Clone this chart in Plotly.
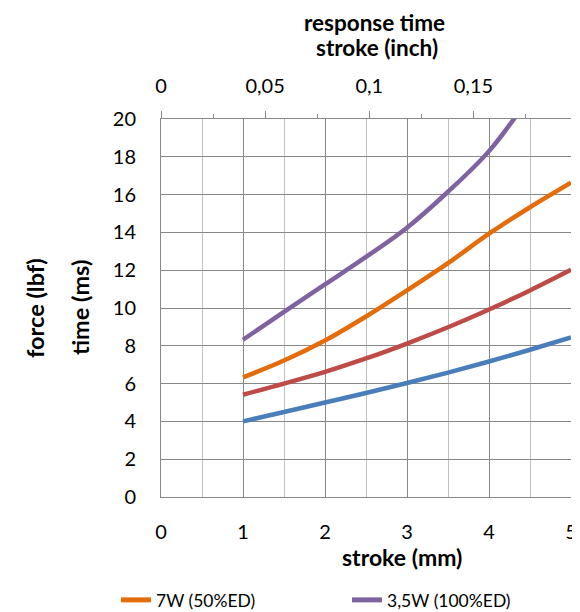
import plotly.graph_objects as go

# ---- data ----
stroke_mm = [1, 1.5, 2, 2.5, 3, 3.5, 4, 4.5, 5]
time_blue = [4.0, 4.5, 5.0, 5.5, 6.03, 6.58, 7.17, 7.79, 8.44]
time_red = [5.41, 6.0, 6.62, 7.33, 8.12, 8.98, 9.92, 10.93, 12.02]
time_orange = [6.33, 7.22, 8.28, 9.55, 10.93, 12.37, 13.93, 15.33, 16.63]
stroke_mm_purple = [1, 1.5, 2, 2.5, 3, 3.5, 4, 4.5]
time_purple = [8.32, 9.8, 11.25, 12.7, 14.25, 16.15, 18.3, 21.2]

name_orange = "7W (50%ED)"
name_purple = "3,5W (100%ED)"

MM_PER_INCH = 25.4
x_range_mm = [0, 5]
y_range = [0, 20]

FONT = "Lato"
TXT = "#000000"
GRID_DARK = "#888888"
GRID_LIGHT = "#C0C0C0"

C_BLUE = "#4A7EBB"
C_RED = "#BE4B48"
C_ORANGE = "#E46C0A"
C_PURPLE = "#7F63A1"

fig = go.Figure()

fig.add_trace(go.Scatter(x=stroke_mm, y=time_blue, mode="lines", showlegend=False,
                         line=dict(color=C_BLUE, width=4.5, shape="spline"), hoverinfo="x+y"))
fig.add_trace(go.Scatter(x=stroke_mm, y=time_red, mode="lines", showlegend=False,
                         line=dict(color=C_RED, width=4.5, shape="spline"), hoverinfo="x+y"))
fig.add_trace(go.Scatter(x=stroke_mm, y=time_orange, mode="lines", name=name_orange,
                         line=dict(color=C_ORANGE, width=4.5, shape="spline")))
fig.add_trace(go.Scatter(x=stroke_mm_purple, y=time_purple, mode="lines", name=name_purple,
                         line=dict(color=C_PURPLE, width=4.5, shape="spline")))

# invisible trace that carries the secondary (inch) axis
fig.add_trace(go.Scatter(x=[v / MM_PER_INCH for v in stroke_mm], y=time_blue, xaxis="x2",
                         mode="lines", line=dict(color="rgba(0,0,0,0)", width=0),
                         showlegend=False, hoverinfo="skip"))

# page has an 8px body margin; figure drawn at (8, 8)
OFF = 8
W, H = 580 - OFF, 612 - OFF
PL, PR, PT, PB = 161, 571, 119, 497   # plot area in page pixels
L, R, T, B = PL - OFF, (580 - PR), PT - OFF, (612 - PB)
pw, ph = PR - PL, PB - PT


def px(x):
    return (x - PL) / pw


def py(y):
    return (PB - y) / ph


fig.update_layout(
    width=W, height=H,
    margin=dict(l=L, r=R, t=T, b=B, pad=0, autoexpand=False),
    paper_bgcolor="white", plot_bgcolor="white",
    font=dict(family=FONT, size=20, color=TXT),
    separators=", ",
    showlegend=True,
    legend=dict(orientation="h", x=px(116), y=py(600), xanchor="left", yanchor="middle",
                font=dict(size=17.5, color=TXT), entrywidth=186, entrywidthmode="pixels",
                itemsizing="constant", bgcolor="rgba(0,0,0,0)"),
    xaxis=dict(range=x_range_mm, dtick=1, tick0=0, showgrid=True, gridcolor=GRID_DARK, gridwidth=1,
               minor=dict(dtick=0.5, showgrid=True, gridcolor=GRID_LIGHT, gridwidth=1),
               showline=True, linecolor=GRID_DARK, linewidth=1, zeroline=False, automargin=False,
               ticks="", ticklabelstandoff=17, tickfont=dict(size=20, color=TXT), fixedrange=True),
    xaxis2=dict(range=[x_range_mm[0] / MM_PER_INCH, x_range_mm[1] / MM_PER_INCH], overlaying="x",
                side="top", anchor="y", dtick=0.05, tick0=0, showgrid=False, zeroline=False,
                showline=True, linecolor=GRID_DARK, linewidth=1, automargin=False,
                ticks="outside", ticklen=7, tickcolor=GRID_DARK, tickwidth=1,
                minor=dict(dtick=0.025, ticks="outside", ticklen=4, tickcolor=GRID_DARK, showgrid=False),
                ticklabelstandoff=10, tickfont=dict(size=20, color=TXT), fixedrange=True),
    yaxis=dict(range=y_range, dtick=2, tick0=0, showgrid=True, gridcolor=GRID_DARK, gridwidth=1,
               showline=True, linecolor=GRID_DARK, linewidth=1, zeroline=False, automargin=False,
               ticks="", ticklabelstandoff=20, tickfont=dict(size=20, color=TXT), fixedrange=True),
)

ann = [
    dict(text="<b>response time</b>", x=px(374), y=py(22), size=22.5),
    dict(text="<b>stroke (inch)</b>", x=px(377), y=py(48), size=22.5),
    dict(text="<b>stroke (mm)</b>", x=px(402), y=py(557), size=23),
]
for a in ann:
    fig.add_annotation(text=a["text"], x=a["x"], y=a["y"], xref="paper", yref="paper",
                       showarrow=False, xanchor="center", yanchor="middle",
                       font=dict(family=FONT, size=a["size"], color=TXT))
for txt, xpos in [("<b>time (ms)</b>", 80), ("<b>force (lbf)</b>", 35)]:
    fig.add_annotation(text=txt, x=px(xpos), y=0.5, xref="paper", yref="paper", textangle=-90,
                       showarrow=False, xanchor="center", yanchor="middle",
                       font=dict(family=FONT, size=23.5, color=TXT))

fig.write_html("out.html")
